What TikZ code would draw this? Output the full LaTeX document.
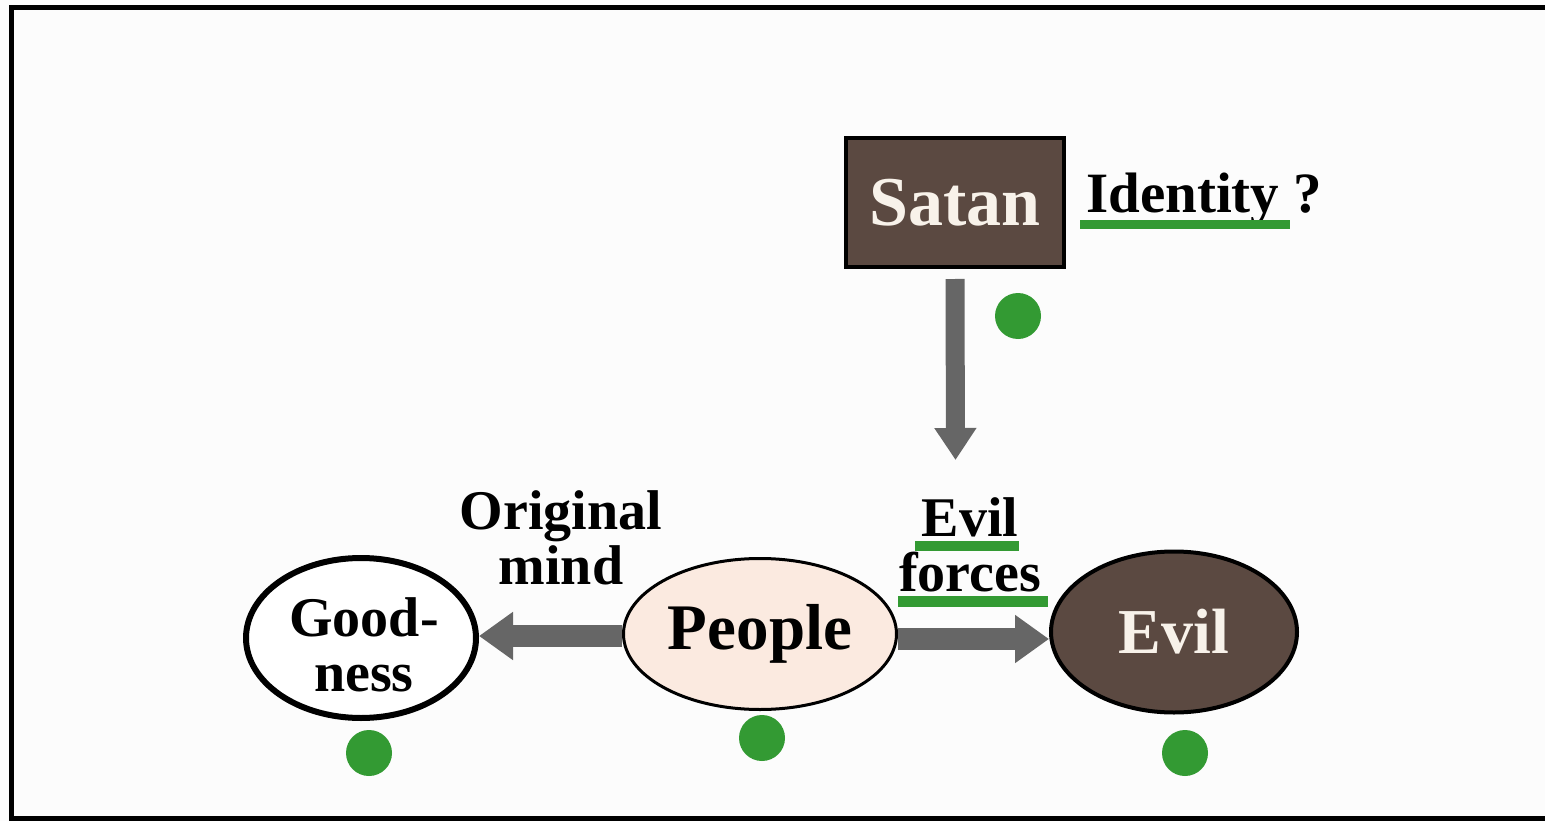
\documentclass[tikz,border=0pt]{standalone}
\usepackage{fontspec}
\setmainfont{Liberation Serif}
\usetikzlibrary{shapes.geometric,arrows.meta}
\definecolor{bgc}{RGB}{252,252,252}
\definecolor{brownc}{RGB}{91,73,65}
\definecolor{peach}{RGB}{251,234,224}
\definecolor{greenc}{RGB}{51,154,51}
\definecolor{arrowc}{RGB}{102,102,102}
\definecolor{lighttext}{RGB}{248,242,234}
\tikzset{
  oval/.style={ellipse, draw=black, inner sep=0pt, font=\bfseries\fontsize{56}{55}\selectfont, align=center},
  lbl/.style={inner sep=0pt, font=\bfseries\fontsize{56}{55}\selectfont, align=center},
  gdot/.style={circle, fill=greenc, minimum size=46pt, inner sep=0pt},
  gline/.style={fill=greenc},
  garrow/.style={draw=arrowc, line width=22pt, -{Triangle[length=34pt,width=46pt]}},
  varrow/.style={draw=arrowc, line width=19pt, -{Triangle[length=32pt,width=40pt]}}
}
\begin{document}
\begin{tikzpicture}[x=1pt,y=-1pt]
\useasboundingbox (0,0) rectangle (1545,821);
\clip (0,0) rectangle (1545,821);
\fill[bgc] (0,0) rectangle (1545,821);
\draw[line width=5pt] (11.5,7.5) rectangle (1580,818.5);

% nodes
\node[draw=black, line width=4pt, fill=brownc, minimum width=218pt, minimum height=129pt, inner sep=0pt,
      text=lighttext, font=\bfseries\fontsize{70}{70}\selectfont] (satan) at (955,202.5) {Satan};
\node[lbl, anchor=base west, font=\bfseries\fontsize{57}{57}\selectfont] (ident) at (1086,213) {Identity ?};

\node[oval, line width=6pt, fill=white, minimum width=230pt, minimum height=160pt] (good) at (361,638) {};
\node[lbl] (goodtxt) at (364,645) {Good-\\ness};
\node[oval, line width=3pt, fill=peach, minimum width=273pt, minimum height=151pt, font=\bfseries\fontsize{65}{65}\selectfont] (people) at (760,634) {People};
\node[oval, line width=4pt, fill=brownc, minimum width=246pt, minimum height=161pt, text=lighttext, font=\bfseries\fontsize{64}{64}\selectfont] (evil) at (1174,632) {Evil};

\node[lbl] (orig) at (561,538) {Original\\mind};
\node[lbl] (forces) at (970,545) {Evil\\forces};

% underlines
\fill[gline] (1080,220) rectangle (1290,229);
\fill[gline] (915,541) rectangle (1019,551);
\fill[gline] (898,596) rectangle (1048,607);

% arrows
\coordinate (vend) at (955.5,460);
\draw[varrow] ([yshift=-10pt]satan.south) -- (vend);
\draw[garrow] ([yshift=2pt]people.west |- good.east) -- ([yshift=2pt]good.east);
\draw[garrow] ([yshift=-7pt]people.east |- evil.west) -- ([yshift=-7pt]evil.west);

% dots
\node[gdot] (d1) at (1018,316) {};
\node[gdot] (d2) at (369,753) {};
\node[gdot] (d3) at (762,738) {};
\node[gdot] (d4) at (1185,753) {};
\end{tikzpicture}
\end{document}
